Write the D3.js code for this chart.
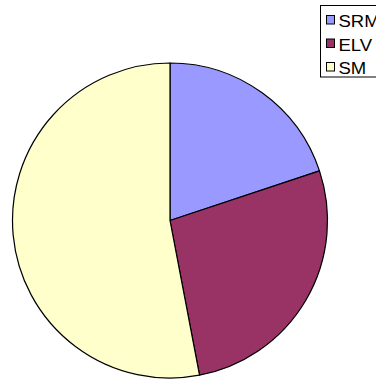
<!DOCTYPE html>
<html>
<head>
<meta charset="utf-8">
<script src="https://cdn.jsdelivr.net/npm/d3@7"></script>
<style>
  html, body { margin: 0; padding: 0; background: #fff; overflow: hidden; }
  svg { display: block; }
  text { font-family: "Liberation Sans", Arial, sans-serif; }
</style>
</head>
<body>
<svg id="chart" width="376" height="379"></svg>
<script>
// Share of each category
const categories = ["SRM", "ELV", "SM"];
const values = [19.9, 27.1, 53.0];
const colors = ["#9999FF", "#993366", "#FFFFCC"];

const svg = d3.select("#chart");
const cx = 170, cy = 220.5, r = 157.5;

const color = d3.scaleOrdinal().domain(categories).range(colors);

const pie = d3.pie().sort(null).value(d => d.value);
const arc = d3.arc().innerRadius(0).outerRadius(r);

const data = categories.map((c, i) => ({ name: c, value: values[i] }));

svg.append("g")
  .attr("transform", `translate(${cx},${cy})`)
  .selectAll("path")
  .data(pie(data))
  .join("path")
  .attr("d", arc)
  .attr("fill", d => color(d.data.name))
  .attr("stroke", "#000")
  .attr("stroke-width", 1.2)
  .attr("stroke-linejoin", "round");

// Legend
const legend = svg.append("g");
legend.append("rect")
  .attr("x", 320.5).attr("y", 5.5)
  .attr("width", 70).attr("height", 71.5)
  .attr("fill", "#fff").attr("stroke", "#000").attr("stroke-width", 1);

const rowY = d3.scalePoint().domain(categories).range([27, 74]);

const rows = legend.selectAll("g.row")
  .data(categories)
  .join("g")
  .attr("class", "row");

rows.append("rect")
  .attr("x", 326.5)
  .attr("y", d => rowY(d) - 11.5)
  .attr("width", 8).attr("height", 8.5)
  .attr("fill", d => color(d))
  .attr("stroke", "#000").attr("stroke-width", 1);

rows.append("text")
  .attr("transform", d => `translate(338.5,${rowY(d)}) scale(1.09,1)`)
  .attr("font-size", 17)
  .attr("fill", "#000")
  .text(d => d);
</script>
</body>
</html>
